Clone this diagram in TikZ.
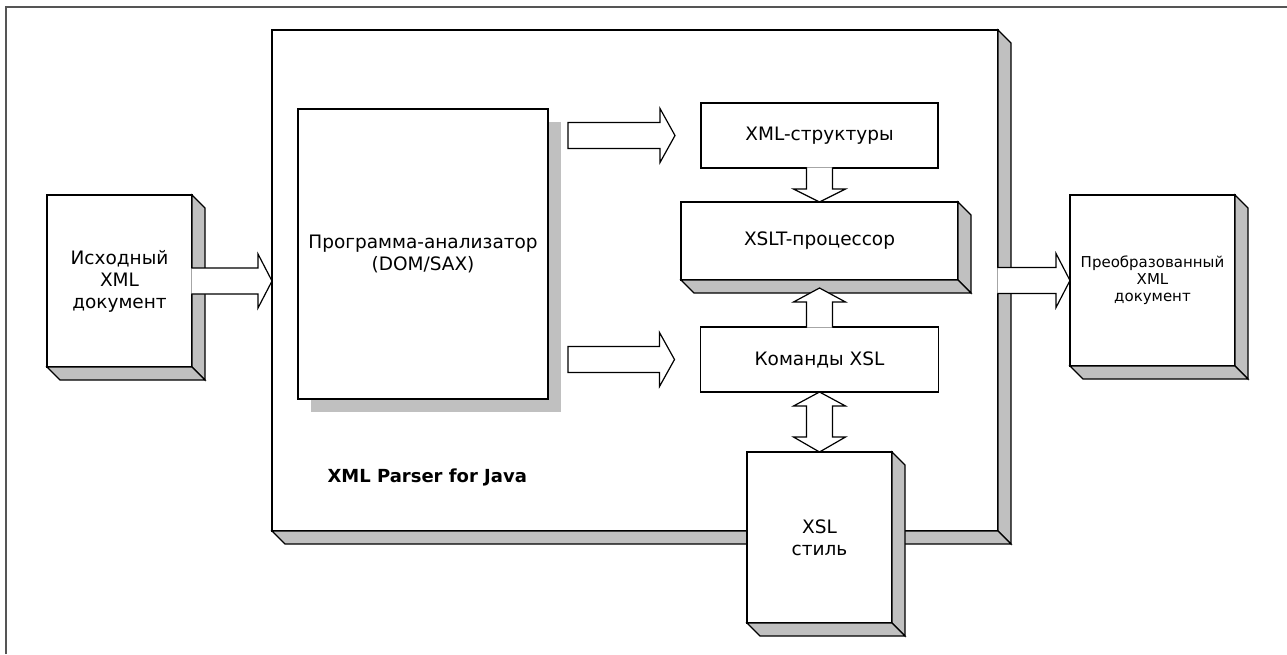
\documentclass[tikz,border=0pt]{standalone}
\usepackage{fontspec}
\setmainfont{DejaVu Sans}
\usetikzlibrary{calc,shadows}

\definecolor{sidegray}{HTML}{C0C0C0}
\definecolor{framegray}{HTML}{555555}

\tikzset{
  box/.style={draw=black, fill=white, line width=1.2pt, inner sep=0pt, outer sep=0pt,
    align=center, font=\fontsize{18.5}{22}\selectfont},
  smalltext/.style={font=\fontsize{15}{17}\selectfont},
  side/.style={draw=black, fill=sidegray, line width=1.2pt, line join=miter},
  barrow/.style={draw=black, fill=white, line width=1.2pt, line join=miter},
  flatshadow/.style={drop shadow={shadow xshift=13pt, shadow yshift=-13pt,
    fill=sidegray, draw=none, opacity=1}},
}

% right and bottom faces of a solid box
\newcommand\solidsides[2][13]{%
  \filldraw[side] (#2.north east) -- ++(#1,#1) -- ($(#2.south east)+(#1,#1)$) -- (#2.south east) -- cycle;
  \filldraw[side] (#2.south west) -- ($(#2.south west)+(#1,#1)$) -- ($(#2.south east)+(#1,#1)$) -- (#2.south east) -- cycle;
}

% block arrow to the right whose tail opens into a box: #1 tail point, #2 tip
\newcommand\rightopen[2]{%
  \filldraw[barrow] let \p1=#1, \p2=#2 in
    (\x1-0.7pt,\y1+13pt) -- (\x2-14pt,\y1+13pt) -- (\x2-14pt,\y1+27pt) -- (\x2,\y1)
    -- (\x2-14pt,\y1-27pt) -- (\x2-14pt,\y1-13pt) -- (\x1-0.7pt,\y1-13pt);
}
% closed block arrow to the right: #1 tail point, #2 tip
\newcommand\rightclosed[2]{%
  \filldraw[barrow] let \p1=#1, \p2=#2 in
    (\x1,\y1+13pt) -- (\x2-15pt,\y1+13pt) -- (\x2-15pt,\y1+27pt) -- (\x2,\y1)
    -- (\x2-15pt,\y1-27pt) -- (\x2-15pt,\y1-13pt) -- (\x1,\y1-13pt) -- cycle;
}
% downward block arrow with open tail: #1 tail point, #2 tip
\newcommand\downopen[2]{%
  \filldraw[barrow] let \p1=#1, \p2=#2 in
    (\x1-13pt,\y1+0.7pt) -- (\x1-13pt,\y2+13pt) -- (\x1-26pt,\y2+13pt) -- (\x1,\y2)
    -- (\x1+26pt,\y2+13pt) -- (\x1+13pt,\y2+13pt) -- (\x1+13pt,\y1+0.7pt);
}
% upward block arrow with open tail: #1 tail point, #2 tip
\newcommand\upopen[2]{%
  \filldraw[barrow] let \p1=#1, \p2=#2 in
    (\x1-13pt,\y1-0.7pt) -- (\x1-13pt,\y2-14pt) -- (\x1-26pt,\y2-14pt) -- (\x1,\y2)
    -- (\x1+26pt,\y2-14pt) -- (\x1+13pt,\y2-14pt) -- (\x1+13pt,\y1-0.7pt);
}
% two-headed vertical block arrow: #1 upper tip, #2 lower tip
\newcommand\updown[2]{%
  \filldraw[barrow] let \p1=#1, \p2=#2 in
    (\x1,\y1) -- (\x1+26pt,\y1-14pt) -- (\x1+13pt,\y1-14pt) -- (\x1+13pt,\y2+15pt)
    -- (\x1+26pt,\y2+15pt) -- (\x1,\y2) -- (\x1-26pt,\y2+15pt) -- (\x1-13pt,\y2+15pt)
    -- (\x1-13pt,\y1-14pt) -- (\x1-26pt,\y1-14pt) -- cycle;
}

\begin{document}
\begin{tikzpicture}[x=1pt,y=-1pt]
\useasboundingbox (0,0) rectangle (1287,654);

% page frame
\draw[framegray, line width=1.6pt] (6,654) -- (6,7) -- (1287,7);

% XML Parser for Java
\node[box, minimum width=726, minimum height=501] (parserbox) at (635,280.5) {};
\solidsides{parserbox}
\node[anchor=base west, font=\bfseries\fontsize{18}{22}\selectfont] (title) at (324,482) {XML Parser for Java};

% source document
\node[box, minimum width=145, minimum height=172] (src) at (119.5,281) {Исходный\\XML\\документ};
\solidsides{src}
\rightopen{(src.east)}{(parserbox.west |- src.east)}

% analyser
\node[box, flatshadow, minimum width=250, minimum height=290] (analyser) at (423,254) {Программа-анализатор\\(DOM/SAX)};

% inner blocks
\node[box, minimum width=237, minimum height=65] (struct) at (819.5,135.5) {XML-структуры};
\node[box, minimum width=277, minimum height=78] (xslt) at (819.5,241) {XSLT-процессор};
\solidsides{xslt}
\node[box, minimum width=238, minimum height=65] (cmds) at (819.5,359.5) {Команды XSL};

% analyser outputs
\coordinate (t1) at ($(analyser.east |- struct.west)+(20,0)$);
\coordinate (h1) at ($(struct.west)+(-26,0)$);
\coordinate (t2) at ($(analyser.east |- cmds.west)+(20,0)$);
\coordinate (h2) at ($(cmds.west)+(-26,0)$);
\rightclosed{(t1)}{(h1)}
\rightclosed{(t2)}{(h2)}

% flows into the processor
\downopen{(struct.south)}{(xslt.north)}
\coordinate (xsltin) at ($(xslt.south)+(0,8)$);
\upopen{(cmds.north)}{(xsltin)}

% stylesheet
\node[box, minimum width=145, minimum height=171] (style) at (819.5,537.5) {XSL\\стиль};
\solidsides{style}
\updown{(cmds.south)}{(cmds.south |- style.north)}

% transformed document
\node[box, smalltext, minimum width=165, minimum height=171] (dst) at (1152.5,280.5) {Преобразованный\\XML\\документ};
\solidsides{dst}
\rightopen{(parserbox.east |- dst.west)}{(dst.west)}

\end{tikzpicture}
\end{document}
